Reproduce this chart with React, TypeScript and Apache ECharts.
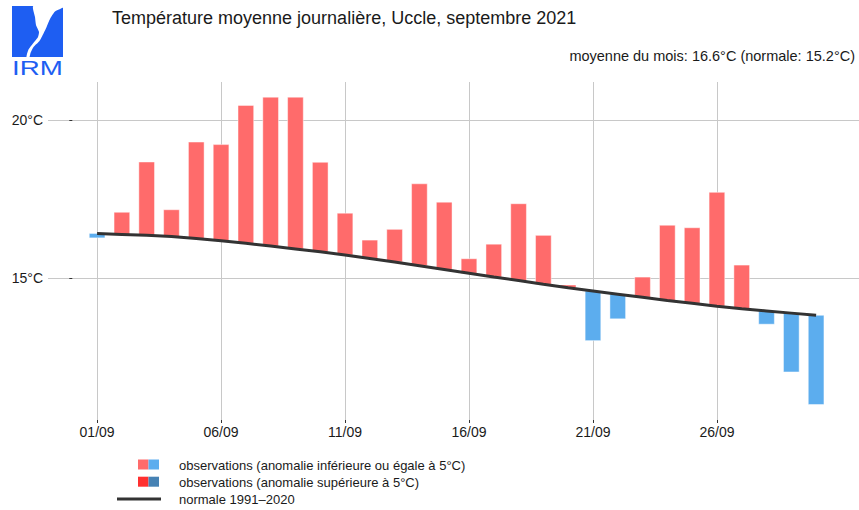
import React, { useEffect, useRef } from "react";
import * as echarts from "echarts";

const days = [1, 2, 3, 4, 5, 6, 7, 8, 9, 10, 11, 12, 13, 14, 15, 16, 17, 18, 19, 20, 21, 22, 23, 24, 25, 26, 27, 28, 29, 30];
const observed = [16.27, 17.08, 18.67, 17.16, 19.3, 19.22, 20.46, 20.72, 20.72, 18.66, 17.05, 16.2, 16.54, 17.98, 17.4, 15.61, 16.07, 17.35, 16.35, 14.78, 13.02, 13.71, 15.03, 16.67, 16.59, 17.71, 15.41, 13.54, 12.03, 11.0];
const normals = [16.41, 16.38, 16.35, 16.31, 16.25, 16.18, 16.1, 16.01, 15.92, 15.83, 15.73, 15.62, 15.51, 15.39, 15.27, 15.15, 15.03, 14.92, 14.8, 14.69, 14.59, 14.49, 14.39, 14.29, 14.2, 14.11, 14.03, 13.96, 13.89, 13.82];
const xTickDays = [1, 6, 11, 16, 21, 26];
const xTickLabels = ["01/09", "06/09", "11/09", "16/09", "21/09", "26/09"];
const yTickValues = [15, 20];
const yTickLabels = ["15°C", "20°C"];
const titleText = "Température moyenne journalière, Uccle, septembre 2021";
const subtitleText = "moyenne du mois: 16.6°C (normale: 15.2°C)";
const legendLabels = [
  "observations (anomalie inférieure ou égale à 5°C)",
  "observations (anomalie supérieure à 5°C)",
  "normale 1991–2020",
];
const anomalyThreshold = 5;

const LIGHT_RED = "#FF6B6B";
const LIGHT_BLUE = "#5CADEE";
const DARK_RED = "#FF3030";
const DARK_BLUE = "#4682B4";
const LOGO_BLUE = "#1E5EF2";
const FONT = "'Liberation Sans', Arial, Helvetica, sans-serif";

export default function App() {
  const ref = useRef<HTMLDivElement>(null);

  useEffect(() => {
    if (!ref.current) return;
    const chart = echarts.init(ref.current, null, { renderer: "svg" });
    const halfW = 0.316;
    const barData = days.map((d, i) => [d, observed[i], normals[i]]);
    const lineData = days.map((d, i) => [d, normals[i]]);

    const option: any = {
      animation: false,
      backgroundColor: "#ffffff",
      textStyle: { fontFamily: FONT },
      grid: { left: 48, right: 0, top: 82, height: 338, containLabel: false },
      xAxis: {
        type: "value",
        min: -0.98,
        max: 31.73,
        axisLine: { show: false },
        axisTick: {
          show: true,
          customValues: xTickDays,
          length: 3,
          lineStyle: { color: "#333333", width: 1 },
        },
        axisLabel: {
          customValues: xTickDays,
          formatter: (v: number) => xTickLabels[xTickDays.indexOf(v)] ?? "",
          fontSize: 14,
          color: "#1a1a1a",
          fontFamily: FONT,
          margin: 5,
        },
        splitLine: { show: true, lineStyle: { color: "#c8c8c8", width: 1 } },
      },
      yAxis: {
        type: "value",
        min: 10.51,
        max: 21.2,
        axisLine: { show: false },
        axisTick: {
          show: true,
          customValues: yTickValues,
          length: 3,
          lineStyle: { color: "#333333", width: 1 },
        },
        axisLabel: {
          customValues: yTickValues,
          formatter: (v: number) => yTickLabels[yTickValues.indexOf(v)] ?? "",
          fontSize: 14,
          color: "#1a1a1a",
          fontFamily: FONT,
          margin: 5,
        },
        splitLine: { show: true, lineStyle: { color: "#c8c8c8", width: 1 } },
      },
      series: [
        {
          type: "custom",
          name: "observations",
          z: 2,
          data: barData,
          encode: { x: 0, y: [1, 2] },
          renderItem: (params: any, api: any) => {
            const d = api.value(0);
            const obs = api.value(1);
            const nor = api.value(2);
            const hi = Math.max(obs, nor);
            const lo = Math.min(obs, nor);
            const p1 = api.coord([d - halfW, hi]);
            const p2 = api.coord([d + halfW, lo]);
            const an = obs - nor;
            const fill =
              an > 0
                ? an > anomalyThreshold
                  ? DARK_RED
                  : LIGHT_RED
                : an < -anomalyThreshold
                ? DARK_BLUE
                : LIGHT_BLUE;
            return {
              type: "rect",
              shape: { x: p1[0], y: p1[1], width: p2[0] - p1[0], height: p2[1] - p1[1] },
              style: { fill, stroke: "rgba(255,255,255,0.45)", lineWidth: 1 },
            };
          },
        },
        {
          type: "line",
          name: "normale",
          z: 5,
          data: lineData,
          showSymbol: false,
          symbol: "none",
          smooth: false,
          lineStyle: { color: "#333333", width: 3 },
        },
      ],
      graphic: [
        { type: "rect", shape: { x: 12, y: 6, width: 51, height: 51 }, style: { fill: LOGO_BLUE } },
        {
          type: "polygon",
          shape: {
            points: [
              [33.3, 6], [35, 17], [36, 25], [39, 32], [38, 37], [35, 41], [31, 46], [28.3, 50], [26.5, 57],
              [29.5, 57], [30.5, 53], [33.5, 47], [39.5, 41], [43.5, 33.5], [46.7, 26.7], [50, 19], [55, 11.5], [63, 7.5], [63, 6],
            ],
            smooth: 0.2,
          },
          style: { fill: "#ffffff" },
        },
        {
          type: "text",
          x: 37.5,
          y: 68,
          scaleX: 1.32,
          originX: 0,
          originY: 0,
          style: {
            text: "IRM",
            fontSize: 21,
            fontFamily: FONT,
            fill: LOGO_BLUE,
            textAlign: "center",
            textVerticalAlign: "middle",
          },
        },
        {
          type: "text",
          x: 112,
          y: 18,
          style: {
            text: titleText,
            fontSize: 18,
            fontFamily: FONT,
            fill: "#1a1a1a",
            textAlign: "left",
            textVerticalAlign: "middle",
          },
        },
        {
          type: "text",
          x: 855,
          y: 56,
          style: {
            text: subtitleText,
            fontSize: 14.5,
            fontFamily: FONT,
            fill: "#1a1a1a",
            textAlign: "right",
            textVerticalAlign: "middle",
          },
        },
        { type: "rect", shape: { x: 138, y: 459.5, width: 10.5, height: 10 }, style: { fill: LIGHT_RED } },
        { type: "rect", shape: { x: 148.5, y: 459.5, width: 10.5, height: 10 }, style: { fill: LIGHT_BLUE } },
        { type: "rect", shape: { x: 138, y: 476.7, width: 10.5, height: 10 }, style: { fill: DARK_RED } },
        { type: "rect", shape: { x: 148.5, y: 476.7, width: 10.5, height: 10 }, style: { fill: DARK_BLUE } },
        {
          type: "line",
          shape: { x1: 117, y1: 499, x2: 161, y2: 499 },
          style: { stroke: "#333333", lineWidth: 3 },
        },
        ...legendLabels.map((t, i) => ({
          type: "text",
          x: 179,
          y: [465, 482, 499.5][i],
          style: {
            text: t,
            fontSize: 13,
            fontFamily: FONT,
            fill: "#1a1a1a",
            textAlign: "left",
            textVerticalAlign: "middle",
          },
        })),
      ],
    };

    chart.setOption(option);
    return () => chart.dispose();
  }, []);

  return (
    <div
      ref={ref}
      style={{ position: "absolute", left: 0, top: 0, width: 859, height: 510, background: "#fff" }}
    />
  );
}
